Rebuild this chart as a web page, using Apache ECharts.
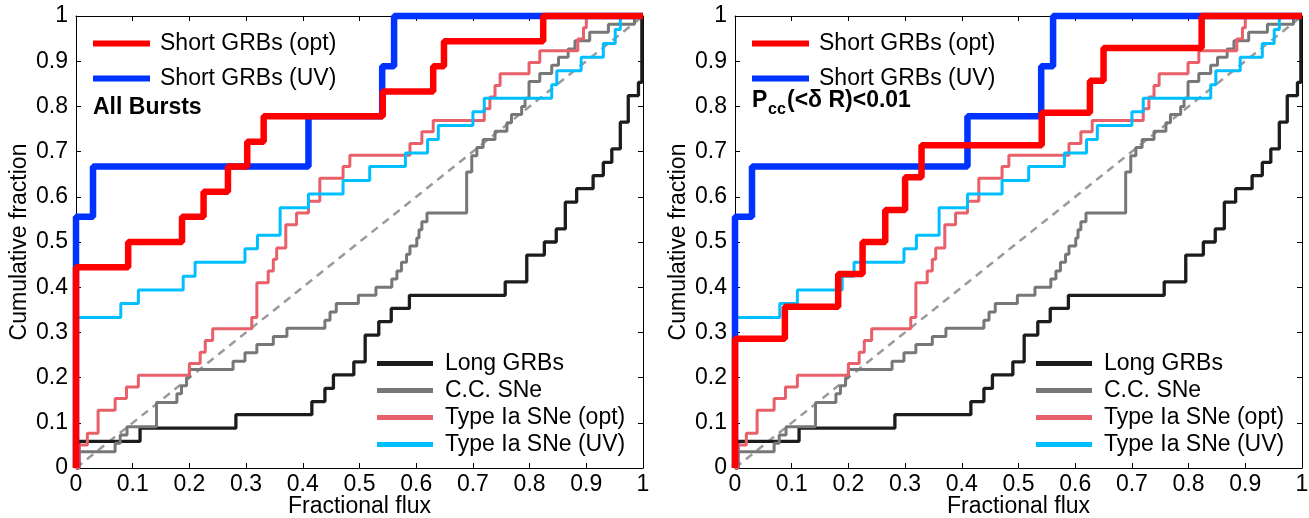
<!DOCTYPE html>
<html>
<head>
<meta charset="utf-8">
<script src="https://cdn.jsdelivr.net/npm/echarts@6/dist/echarts.min.js"></script>
<style>
  html, body { margin: 0; padding: 0; background: #fff; }
  #app { width: 1309px; height: 518px; }
</style>
</head>
<body>
<div id="app"></div>
<script>
var FONT = '"Liberation Sans", Arial, Helvetica, sans-serif';

// cumulative steps: [fractional flux, fraction after the jump]
var shortOptAll = [[0,0],[0,0.444],[0.092,0.5],[0.187,0.556],[0.225,0.611],[0.268,0.667],[0.302,0.722],[0.331,0.778],[0.541,0.833],[0.63,0.889],[0.649,0.944],[0.824,1],[1,1]];
var shortOptPcc = [[0,0],[0,0.286],[0.088,0.357],[0.182,0.429],[0.225,0.5],[0.265,0.571],[0.3,0.643],[0.329,0.714],[0.541,0.786],[0.626,0.857],[0.65,0.929],[0.823,1],[1,1]];
var shortUv = [[0,0],[0,0.556],[0.03,0.667],[0.41,0.778],[0.54,0.889],[0.561,1],[1,1]];
var longGrb = [[0,0],[0.005,0.059],[0.113,0.088],[0.282,0.118],[0.416,0.147],[0.439,0.176],[0.454,0.206],[0.49,0.235],[0.51,0.294],[0.534,0.324],[0.556,0.353],[0.588,0.382],[0.757,0.412],[0.795,0.471],[0.826,0.5],[0.847,0.529],[0.863,0.588],[0.883,0.618],[0.912,0.647],[0.93,0.676],[0.945,0.706],[0.96,0.765],[0.974,0.824],[0.992,0.853],[0.998,1],[1,1]];
var ccSne = [[0,0],[0.005,0.036],[0.069,0.055],[0.078,0.073],[0.09,0.091],[0.142,0.145],[0.178,0.164],[0.186,0.182],[0.195,0.2],[0.2,0.218],[0.277,0.236],[0.298,0.255],[0.319,0.273],[0.348,0.291],[0.372,0.309],[0.439,0.327],[0.448,0.345],[0.459,0.364],[0.498,0.382],[0.529,0.4],[0.557,0.418],[0.566,0.436],[0.574,0.455],[0.583,0.473],[0.589,0.491],[0.601,0.509],[0.605,0.527],[0.61,0.545],[0.619,0.564],[0.689,0.655],[0.698,0.691],[0.707,0.709],[0.718,0.727],[0.739,0.745],[0.76,0.764],[0.768,0.782],[0.786,0.8],[0.792,0.818],[0.799,0.855],[0.818,0.873],[0.839,0.891],[0.851,0.909],[0.868,0.927],[0.88,0.945],[0.906,0.964],[0.939,0.982],[0.985,1],[1,1]];
var iaOpt = [[0,0],[0.005,0.051],[0.02,0.077],[0.039,0.128],[0.069,0.154],[0.089,0.179],[0.11,0.205],[0.2,0.231],[0.219,0.256],[0.228,0.282],[0.241,0.308],[0.31,0.333],[0.319,0.41],[0.339,0.436],[0.348,0.462],[0.354,0.487],[0.37,0.538],[0.389,0.564],[0.41,0.59],[0.43,0.641],[0.471,0.667],[0.483,0.692],[0.589,0.718],[0.61,0.744],[0.63,0.769],[0.72,0.795],[0.73,0.821],[0.739,0.846],[0.748,0.872],[0.799,0.897],[0.818,0.923],[0.885,0.949],[0.895,0.974],[0.9,1],[1,1]];
var iaUv = [[0,0],[0,0.333],[0.079,0.364],[0.11,0.394],[0.189,0.424],[0.21,0.455],[0.298,0.485],[0.32,0.515],[0.36,0.576],[0.41,0.606],[0.471,0.636],[0.518,0.667],[0.581,0.697],[0.62,0.727],[0.639,0.758],[0.7,0.788],[0.72,0.818],[0.839,0.848],[0.848,0.879],[0.891,0.909],[0.93,0.939],[0.951,0.97],[0.96,1],[1,1]];
var diagonal = [[0,0],[1,1]];

var topNames = ['Short GRBs (opt)', 'Short GRBs (UV)'];
var bottomNames = ['Long GRBs', 'C.C. SNe', 'Type Ia SNe (opt)', 'Type Ia SNe (UV)'];

var gridLefts = [76, 735];
var FS = 23;

function xAxes(g) {
  var base = {
    gridIndex: g, type: 'value', min: 0, max: 1, interval: 0.1,
    axisLine: {show: true, onZero: false, lineStyle: {color: '#000', width: 1}},
    axisTick: {show: true, inside: true, length: 5, lineStyle: {color: '#000'}},
    splitLine: {show: false}
  };
  var bottom = Object.assign({}, base, {
    position: 'bottom',
    axisLabel: {fontSize: FS, color: '#000', fontFamily: FONT, margin: 5},
    name: 'Fractional flux', nameLocation: 'middle', nameGap: 27, nameMoveOverlap: false,
    nameTextStyle: {fontSize: FS, color: '#000', fontFamily: FONT}
  });
  var top = Object.assign({}, base, {position: 'top', axisLabel: {show: false}});
  return [bottom, top];
}

function yAxes(g) {
  var base = {
    gridIndex: g, type: 'value', min: 0, max: 1, interval: 0.1,
    axisLine: {show: true, onZero: false, lineStyle: {color: '#000', width: 1}},
    axisTick: {show: true, inside: true, length: 5, lineStyle: {color: '#000'}},
    splitLine: {show: false}
  };
  var left = Object.assign({}, base, {
    position: 'left',
    axisLabel: {fontSize: FS, color: '#000', fontFamily: FONT, margin: 8},
    name: 'Cumulative fraction', nameLocation: 'middle', nameGap: 45, nameMoveOverlap: false,
    nameTextStyle: {fontSize: FS, color: '#000', fontFamily: FONT}
  });
  var right = Object.assign({}, base, {position: 'right', axisLabel: {show: false}});
  return [left, right];
}

function stepLine(name, data, color, width, ax) {
  return {
    name: name, type: 'line', step: 'end', data: data,
    xAxisIndex: ax, yAxisIndex: ax,
    symbol: 'none', showSymbol: false, clip: false, silent: true,
    lineStyle: {color: color, width: width},
    itemStyle: {color: color}
  };
}

function panelSeries(g, shortOpt) {
  var ax = g * 2;
  return [
    {
      type: 'line', data: diagonal, xAxisIndex: ax, yAxisIndex: ax,
      symbol: 'none', silent: true,
      lineStyle: {color: '#9a9a9a', width: 2.5, type: [8, 6]}
    },
    stepLine('Long GRBs', longGrb, '#1c1c1c', 3.3, ax),
    stepLine('C.C. SNe', ccSne, '#777777', 3, ax),
    stepLine('Type Ia SNe (opt)', iaOpt, '#e8606a', 3, ax),
    stepLine('Type Ia SNe (UV)', iaUv, '#00bfff', 3, ax),
    stepLine('Short GRBs (UV)', shortUv, '#0033ff', 6.5, ax),
    stepLine('Short GRBs (opt)', shortOpt, '#ff0000', 6.5, ax)
  ];
}

function legends(g) {
  var l = gridLefts[g];
  var common = {
    orient: 'vertical', icon: 'rect', selectedMode: false, padding: 0,
    itemStyle: {borderWidth: 0},
    textStyle: {fontSize: FS, color: '#000', fontFamily: FONT}
  };
  return [
    Object.assign({}, common, {
      left: l + 17, top: 32, data: topNames,
      itemWidth: 57, itemHeight: 6, itemGap: 12,
      textStyle: Object.assign({}, common.textStyle, {padding: [0, 0, 0, 5]})
    }),
    Object.assign({}, common, {
      left: l + 301, top: 352, data: bottomNames,
      itemWidth: 56, itemHeight: 5, itemGap: 4,
      textStyle: Object.assign({}, common.textStyle, {padding: [0, 0, 0, 7]})
    })
  ];
}

var myChart = echarts.init(document.getElementById('app'), null, {renderer: 'canvas'});

myChart.setOption({
  backgroundColor: '#fff',
  animation: false,
  grid: [
    {left: gridLefts[0], top: 16, width: 567, height: 452, outerBoundsMode: 'none'},
    {left: gridLefts[1], top: 16, width: 567, height: 452, outerBoundsMode: 'none'}
  ],
  xAxis: xAxes(0).concat(xAxes(1)),
  yAxis: yAxes(0).concat(yAxes(1)),
  legend: legends(0).concat(legends(1)),
  graphic: [
    {type: 'text', left: 93, top: 96, style: {text: 'All Bursts', font: 'bold 23px ' + FONT, fill: '#000'}},
    {type: 'text', left: 752, top: 89, style: {text: 'P', font: 'bold 23px ' + FONT, fill: '#000'}},
    {type: 'text', left: 768, top: 102, style: {text: 'cc', font: 'bold 16px ' + FONT, fill: '#000'}},
    {type: 'text', left: 787, top: 89, style: {text: '(<δ R)<0.01', font: 'bold 23px ' + FONT, fill: '#000'}}
  ],
  series: panelSeries(0, shortOptAll).concat(panelSeries(1, shortOptPcc))
});
</script>
</body>
</html>
